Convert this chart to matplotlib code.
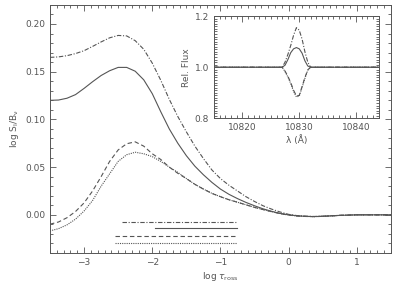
import matplotlib
matplotlib.use('Agg')
import matplotlib.pyplot as plt
from matplotlib.ticker import MultipleLocator
import numpy as np

plt.rcParams['font.family'] = 'DejaVu Sans'
plt.rcParams['mathtext.default'] = 'regular'

grey = '#555555'

# main panel: log S_l/B_nu against log tau_ross
log_tau = [-3.5, -3.375, -3.25, -3.125, -3.0, -2.875, -2.75, -2.625, -2.5, -2.375,
           -2.25, -2.125, -2.0, -1.875, -1.75, -1.625, -1.5, -1.375, -1.25, -1.125,
           -1.0, -0.875, -0.75, -0.625, -0.5, -0.375, -0.25, -0.125, 0.0, 0.125,
           0.25, 0.375, 0.5, 0.75, 1.0, 1.25, 1.5]
s_solid = [0.120, 0.1203, 0.1222, 0.126, 0.1325, 0.1395, 0.146, 0.151, 0.1545, 0.1545,
           0.1505, 0.1415, 0.127, 0.108, 0.090, 0.075, 0.062, 0.051, 0.042, 0.034,
           0.027, 0.0215, 0.017, 0.013, 0.0095, 0.0063, 0.0037, 0.0015, 0.0, -0.001,
           -0.0016, -0.0018, -0.0015, -0.0006, 0.0, 0.0, 0.0]
s_dashdot = [0.165, 0.1655, 0.1668, 0.169, 0.172, 0.1765, 0.1812, 0.1855, 0.188, 0.1875,
             0.1825, 0.1735, 0.159, 0.141, 0.121, 0.103, 0.087, 0.072, 0.059, 0.047,
             0.038, 0.031, 0.025, 0.019, 0.014, 0.0095, 0.006, 0.003, 0.0005, -0.0008,
             -0.0014, -0.0017, -0.0014, -0.0005, 0.0, 0.0, 0.0]
s_dashed = [-0.0098, -0.0075, -0.003, 0.0035, 0.0125, 0.025, 0.040, 0.056, 0.068, 0.0745,
            0.0765, 0.072, 0.064, 0.058, 0.050, 0.0435, 0.038, 0.032, 0.027, 0.0225,
            0.019, 0.0158, 0.0132, 0.0105, 0.0078, 0.0055, 0.0033, 0.0013, -0.0002, -0.0012,
            -0.0017, -0.0019, -0.0016, -0.0006, 0.0, 0.0, 0.0]
s_dotted = [-0.0168, -0.0145, -0.0105, -0.0045, 0.004, 0.015, 0.030, 0.043, 0.056, 0.063,
            0.0656, 0.064, 0.061, 0.056, 0.050, 0.0445, 0.038, 0.032, 0.027, 0.0225,
            0.019, 0.0158, 0.0132, 0.0105, 0.0078, 0.0055, 0.0033, 0.0013, -0.0002, -0.0012,
            -0.0017, -0.0019, -0.0016, -0.0006, 0.0, 0.0, 0.0]

# horizontal bars below the curves (dash-dot, solid, dashed, dotted)
bar_start = [-2.44, -1.96, -2.54, -2.54]
bar_end = [-0.76, -0.76, -0.76, -0.76]
bar_y = [-0.007, -0.0143, -0.0217, -0.0296]

# inset: relative flux profiles
wave = [10815, 10827, 10827.5, 10828, 10828.5, 10829, 10829.5, 10830, 10830.5,
        10831, 10831.5, 10832, 10844]
f_dashdot = [1, 1, 1.02, 1.05, 1.085, 1.125, 1.155, 1.145, 1.11, 1.06, 1.02, 1, 1]
f_solid = [1, 1, 1.008, 1.03, 1.057, 1.072, 1.077, 1.072, 1.055, 1.025, 1.005, 1, 1]
f_dashed = [1, 1, 0.985, 0.965, 0.94, 0.91, 0.888, 0.89, 0.925, 0.96, 0.99, 1, 1]
f_dotted = [1, 1, 0.983, 0.962, 0.936, 0.906, 0.884, 0.887, 0.921, 0.957, 0.988, 1, 1]

styles = [dict(ls=(0, (4, 1.5, 1, 1.5))), dict(ls='-'),
          dict(ls=(0, (4, 2.5))), dict(ls=(0, (1, 1)))]

fig = plt.figure(figsize=(4.03, 2.88), dpi=100)
ax = fig.add_axes([0.124, 0.1215, 0.846, 0.8615])

for yv, st in zip([s_dashdot, s_solid, s_dashed, s_dotted], styles):
    ax.plot(log_tau, yv, color=grey, lw=0.8, **st)
for x0, x1, yb, st in zip(bar_start, bar_end, bar_y, styles):
    ax.plot([x0, x1], [yb, yb], color=grey, lw=0.8, **st)

ax.set_xlim(-3.5, 1.5)
ax.set_ylim(-0.04, 0.22)
ax.xaxis.set_major_locator(MultipleLocator(1))
ax.xaxis.set_minor_locator(MultipleLocator(0.1))
ax.yaxis.set_major_locator(MultipleLocator(0.05))
ax.yaxis.set_minor_locator(MultipleLocator(0.01))
ax.yaxis.set_major_formatter(plt.FormatStrFormatter('%.2f'))
ax.set_xlabel(r'log $\it{\tau}_{\rm ross}$', fontsize=6.5, color=grey, labelpad=2)
ax.set_ylabel(r'log S$_{\rm l}$/B$_{\nu}$', fontsize=6.5, color=grey, labelpad=3)

ins = fig.add_axes([0.531, 0.589, 0.409, 0.355])
for yv, st in zip([f_dashdot, f_solid, f_dashed, f_dotted], styles):
    ins.plot(wave, yv, color=grey, lw=0.8, **st)
ins.set_xlim(10815, 10844)
ins.set_ylim(0.8, 1.2)
ins.xaxis.set_major_locator(MultipleLocator(10))
ins.xaxis.set_minor_locator(MultipleLocator(1))
ins.yaxis.set_major_locator(MultipleLocator(0.2))
ins.yaxis.set_minor_locator(MultipleLocator(0.01))
ins.yaxis.set_major_formatter(plt.FormatStrFormatter('%.1f'))
ins.set_xlabel('λ (Å)', fontsize=6.5, color=grey, labelpad=2)
ins.set_ylabel('Rel. Flux', fontsize=6.5, color=grey, labelpad=3)

for a in (ax, ins):
    a.tick_params(which='both', direction='in', top=True, right=True,
                  colors=grey, labelsize=6.5, width=0.6)
    a.tick_params(which='major', length=4)
    a.tick_params(which='minor', length=2)
    for sp in a.spines.values():
        sp.set_color(grey)
        sp.set_linewidth(0.7)

fig.savefig('out.png', dpi=100)
